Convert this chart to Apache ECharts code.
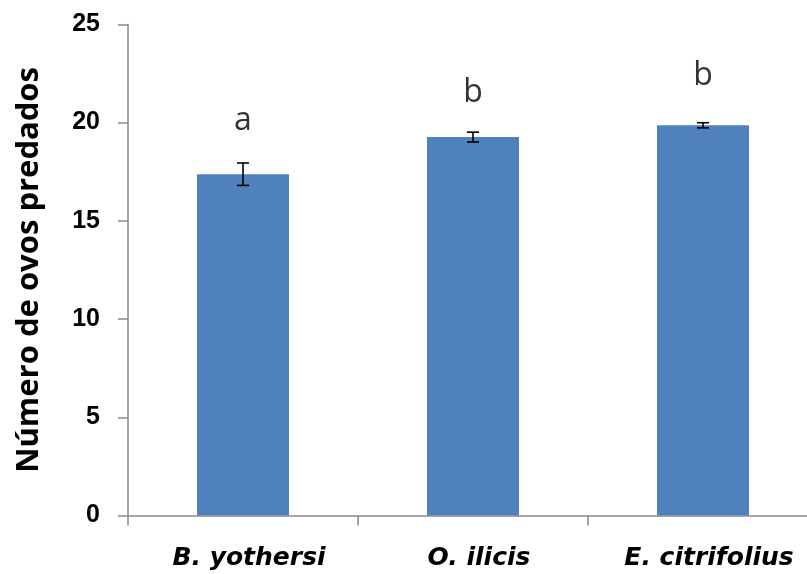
<!DOCTYPE html>
<html><head><meta charset="utf-8">
<script src="https://cdn.jsdelivr.net/npm/echarts@6/dist/echarts.min.js"></script>
<style>html,body{margin:0;padding:0;background:#fff}#c{width:807px;height:574px}</style>
</head><body><div id="c"></div>
<script>
const categories = ['B. yothersi', 'O. ilicis', 'E. citrifolius'];
const means = [17.37, 19.26, 19.86];
const errors = [0.57, 0.25, 0.13];
const letters = ['a', 'b', 'b'];
const letterY = [20.09, 21.53, 22.38];
const yTicks = [0, 5, 10, 15, 20, 25];

const chart = echarts.init(document.getElementById('c'), null, {renderer: 'canvas'});
const axisGray = '#898989';
chart.setOption({
  animation: false,
  backgroundColor: '#fff',
  grid: {left: 128, top: 24.3, bottom: 58.5, right: -11, containLabel: false, outerBoundsMode: 'none'},
  xAxis: {
    type: 'category', data: categories, boundaryGap: true,
    axisLine: {lineStyle: {color: axisGray, width: 1.5}},
    axisTick: {show: true, length: 10, alignWithLabel: false, lineStyle: {color: axisGray, width: 1.5}},
    axisLabel: {margin: 30, padding: [0, 0, 0, 12], color: '#000', fontFamily: 'DejaVu Sans', fontWeight: 'bold', fontStyle: 'italic', fontSize: 25}
  },
  yAxis: {
    type: 'value', min: yTicks[0], max: yTicks[yTicks.length - 1], interval: 5,
    name: 'Número de ovos predados', nameLocation: 'middle', nameGap: 83,
    nameTextStyle: {color: '#000', fontFamily: 'Open Sans', fontWeight: 'bold', fontSize: 31},
    axisLine: {show: true, lineStyle: {color: axisGray, width: 1.5}},
    axisTick: {show: true, length: 10, lineStyle: {color: axisGray, width: 1.5}},
    splitLine: {show: false},
    axisLabel: {margin: 28, color: '#000', fontFamily: 'Liberation Sans', fontWeight: 'bold', fontSize: 25}
  },
  series: [
    {type: 'bar', data: means, barWidth: '40%', itemStyle: {color: '#4F81BD'}, z: 2},
    {
      type: 'custom', z: 5,
      data: means.map((m, i) => [i, m - errors[i], m + errors[i]]),
      renderItem: function (params, api) {
        const lo = api.coord([api.value(0), api.value(1)]);
        const hi = api.coord([api.value(0), api.value(2)]);
        const hw = 6;
        const st = {stroke: '#000', lineWidth: 1.6};
        return {type: 'group', children: [
          {type: 'line', shape: {x1: lo[0], y1: lo[1], x2: hi[0], y2: hi[1]}, style: st},
          {type: 'line', shape: {x1: lo[0] - hw, y1: lo[1], x2: lo[0] + hw, y2: lo[1]}, style: st},
          {type: 'line', shape: {x1: hi[0] - hw, y1: hi[1], x2: hi[0] + hw, y2: hi[1]}, style: st}
        ]};
      }
    },
    {
      type: 'scatter', symbolSize: 0, z: 6,
      data: letterY.map((y, i) => ({value: [i, y], label: {formatter: letters[i]}})),
      label: {show: true, position: 'inside', color: '#000', fontFamily: 'Open Sans', fontSize: 32, verticalAlign: 'middle', align: 'center'}
    }
  ]
});
</script></body></html>
